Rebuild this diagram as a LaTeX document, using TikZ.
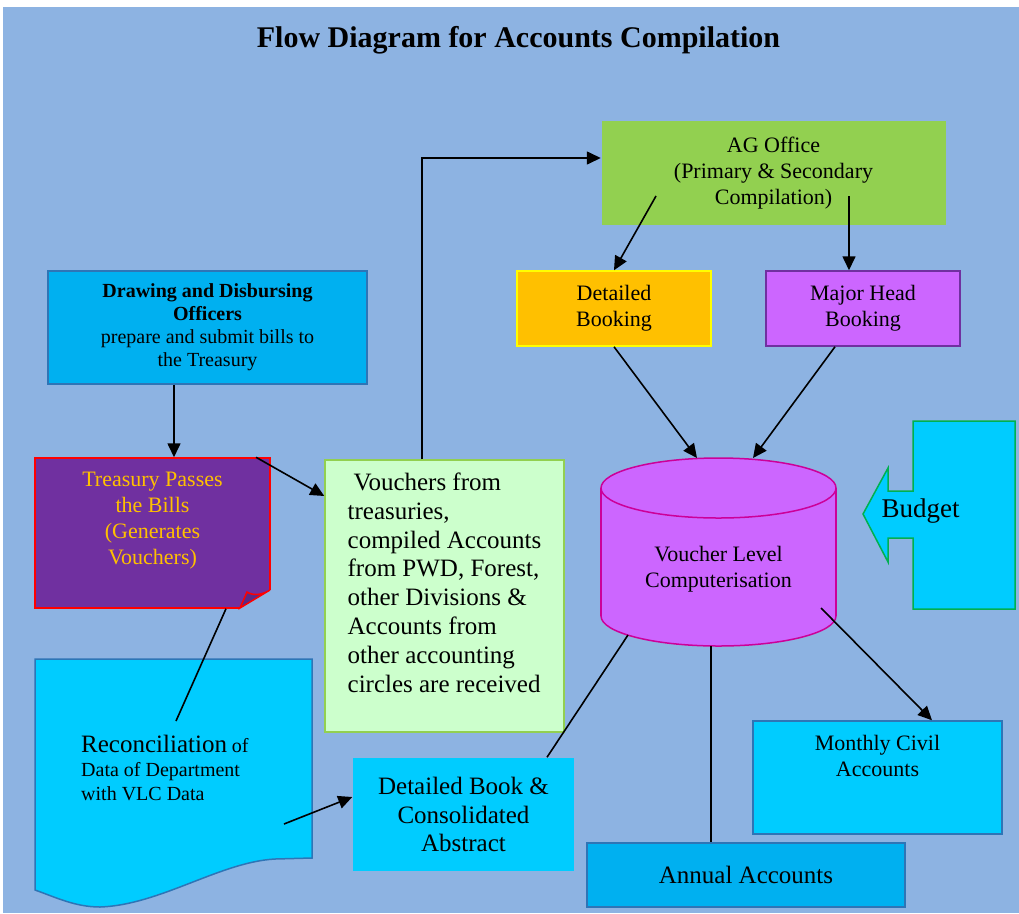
\documentclass[tikz,border=0pt]{standalone}
\usepackage{fontspec}
\setmainfont{Liberation Serif}
\usetikzlibrary{arrows.meta}

\definecolor{bgblue}{HTML}{8DB3E2}
\definecolor{ddoblue}{HTML}{00B0F0}
\definecolor{skyblue}{HTML}{00CCFF}
\definecolor{lineblue}{HTML}{2E75B6}
\definecolor{trpurple}{HTML}{7030A0}
\definecolor{foldpurple}{HTML}{5B2A86}
\definecolor{amber}{HTML}{FFC000}
\definecolor{mint}{HTML}{CCFFCC}
\definecolor{leaf}{HTML}{92D050}
\definecolor{lilac}{HTML}{CC66FF}
\definecolor{cylline}{HTML}{CC0099}
\definecolor{budgetgreen}{HTML}{00B050}
\definecolor{brightyellow}{HTML}{FFFF00}

\begin{document}
\begin{tikzpicture}[x=1pt,y=-1pt,>={Triangle[length=14pt,width=13pt]}]
        \tikzstyle{block}=[rectangle,line width=1.5pt,inner sep=0pt,align=center,text=black]
        \tikzstyle{edge}=[draw,line width=1.6pt,->]
        \tikzstyle{link}=[draw,line width=1.6pt]
        \tikzstyle{small}=[font=\fontsize{20}{23}\selectfont]
        \tikzstyle{normal}=[font=\fontsize{22}{26}\selectfont]
        \tikzstyle{large}=[font=\fontsize{25}{28.9}\selectfont]
        \useasboundingbox (0,0) rectangle (1019,913);
        \fill[bgblue] (3,7) rectangle (1019,913);
        \node [font=\fontsize{30}{36}\selectfont\bfseries] (title) at (518.5,40) {Flow Diagram for Accounts Compilation};
        % reconciliation sheet
        \filldraw[fill=skyblue,draw=lineblue,line width=1.5pt] (35,659) -- (312,659) -- (312,858) -- (275,859)
          .. controls (220,862) and (160,905) .. (100,907) .. controls (75,907) and (55,897) .. (35,890) -- cycle;
        \node [anchor=north west,inner sep=14pt,align=left,font=\fontsize{20}{24}\selectfont] (recon) at (67,721)
          {{\fontsize{25}{24}\selectfont Reconciliation} of\\Data of Department\\with VLC Data};
        % left column
        \node [block,small,fill=ddoblue,draw=lineblue,minimum width=319,minimum height=113] (ddo) at (207.5,327.5)
          {\textbf{Drawing and Disbursing}\\\textbf{Officers}\\prepare and submit bills to\\the Treasury};
        \node [block,normal,fill=trpurple,draw=red,text=amber,minimum width=235,minimum height=150] (treas) at (152.5,533)
          {Treasury Passes\\the Bills\\(Generates\\Vouchers)\\[4pt]\mbox{}};
        \fill[bgblue] (270,590) -- (272,590) -- (272,610) -- (238,610) -- (240,608) -- cycle;
        \filldraw[fill=foldpurple,draw=red,line width=1.5pt] (240,608) -- (247,592) .. controls (253,596) and (262,595) .. (270,590) -- cycle;
        \node [block,large,fill=mint,draw=leaf,align=left,minimum width=239,minimum height=272] (vouch) at (444.5,596)
          {\hspace*{6pt}Vouchers from\\treasuries,\\compiled Accounts\\from PWD, Forest,\\other Divisions \&\\Accounts from\\other accounting\\circles are received\\[-2pt]\mbox{}};
        % AG office and bookings
        \node [block,normal,fill=leaf,minimum width=344,minimum height=104] (agoff) at (773.5,173)
          {AG Office\\(Primary \& Secondary\\Compilation)};
        \node [block,normal,fill=amber,draw=brightyellow,minimum width=194,minimum height=75] (detbk) at (614,308.5) {Detailed\\Booking};
        \node [block,normal,fill=lilac,draw=trpurple,minimum width=194,minimum height=75] (majhd) at (863,308.5) {Major Head\\Booking};
        % voucher level database
        \filldraw[fill=lilac,draw=cylline,line width=1.5pt] (718.5,616) ellipse [x radius=117.5pt,y radius=30pt];
        \fill[lilac] (601,488) rectangle (836,616);
        \draw[cylline,line width=1.5pt] (601,488) -- (601,616) (836,488) -- (836,616);
        \filldraw[fill=lilac,draw=cylline,line width=1.5pt] (718.5,488) ellipse [x radius=117.5pt,y radius=30pt];
        \node [normal,align=center] (vlc) at (718.5,569) {Voucher Level\\Computerisation};
        % budget
        \filldraw[fill=skyblue,draw=budgetgreen,line width=1.5pt] (913,421) -- (1015,421) -- (1015,609) -- (913,609) -- (913,538)
          -- (888,538) -- (888,562) -- (863,514) -- (888,468) -- (888,491) -- (913,491) -- cycle;
        \node [font=\fontsize{27}{32}\selectfont] (budget) at (920.5,511) {Budget};
        % outputs
        \node [block,font=\fontsize{25}{28.5}\selectfont,fill=skyblue,minimum width=221,minimum height=113] (detbook) at (463.5,814.5)
          {Detailed Book \&\\Consolidated\\Abstract};
        \node [block,normal,fill=skyblue,draw=lineblue,minimum width=249,minimum height=113] (month) at (877.5,777.5)
          {Monthly Civil\\Accounts\\[18pt]\mbox{}};
        \node [block,large,fill=ddoblue,draw=lineblue,minimum width=318,minimum height=64] (annual) at (746,875) {Annual Accounts};
        % connectors
        \coordinate (recout) at (284,824);
        \coordinate (agl) at (656,196);
        \coordinate (agr) at (849,196);
        \coordinate (cyltl) at (697,458);
        \coordinate (cyltr) at (753,458);
        \coordinate (cylbl) at (628,635);
        \coordinate (cylbm) at (711,646);
        \coordinate (cylbr) at (821,608);
        \draw[edge] (ddo.south -| 174,0) -- (treas.north -| 174,0);
        \draw[edge] (treas.north -| 256,0) -- (vouch.west |- 0,496);
        \draw[link] (treas.south -| 226,0) -- (recon.north -| 176,0);
        \draw[edge] (recout) -- (detbook.west |- 0,797);
        \draw[edge] (vouch.north -| 422,0) |- (agoff.west |- 0,158);
        \draw[edge] (agl) -- (detbk.north);
        \draw[edge] (agr) -- (majhd.north -| 849,0);
        \draw[edge] (detbk.south) -- (cyltl);
        \draw[edge] (majhd.south -| 835,0) -- (cyltr);
        \draw[link] (cylbl) -- (detbook.north -| 547,0);
        \draw[link] (cylbm) -- (annual.north -| 711,0);
        \draw[edge] (cylbr) -- (month.north -| 932,0);
\end{tikzpicture}
\end{document}
